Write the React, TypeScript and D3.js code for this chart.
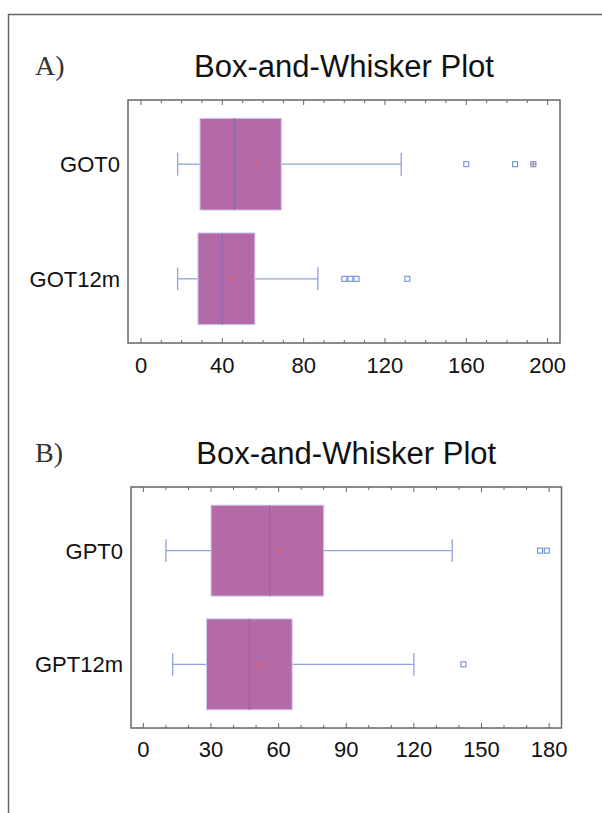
import React from 'react';
import * as d3 from 'd3';

// panel A: GOT
const gotCategories = ['GOT0', 'GOT12m'];
const gotWhiskerLow = [18, 18];
const gotQ1 = [29, 28];
const gotMedian = [46, 40];
const gotMean = [57, 45];
const gotQ3 = [69, 56];
const gotWhiskerHigh = [128, 87];
const gotOutliers = [[160, 184, 193], [100, 103, 106, 131]];
const gotFarOutliers = [[193], []];
const gotTicks = [0, 40, 80, 120, 160, 200];

// panel B: GPT
const gptCategories = ['GPT0', 'GPT12m'];
const gptWhiskerLow = [10, 13];
const gptQ1 = [30, 28];
const gptMedian = [56, 47];
const gptMean = [60, 52];
const gptQ3 = [80, 66];
const gptWhiskerHigh = [137, 120];
const gptOutliers = [[176, 179], [142]];
const gptFarOutliers = [[], []];
const gptTicks = [0, 30, 60, 90, 120, 150, 180];

const FILL = '#b56aa8';
const BOX_STROKE = '#cfc8ec';
const MEDIAN = '#8d6aad';
const WHISKER = '#8ea2dc';
const OUTLIER = '#6f8fd6';
const MEAN = '#e0607a';
const FRAME = '#666';
const SANS = 'Liberation Sans, Arial, sans-serif';

type PanelProps = {
  letter: string;
  titleY: number;
  left: number;
  right: number;
  top: number;
  bottom: number;
  domain: [number, number];
  ticks: number[];
  minorStep: number;
  categories: string[];
  low: number[];
  q1: number[];
  med: number[];
  mean: number[];
  q3: number[];
  high: number[];
  outliers: number[][];
  far: number[][];
  labelBaseline: number;
};

const Panel = (p: PanelProps) => {
  const x = d3.scaleLinear().domain(p.domain).range([p.left, p.right]);
  const y = d3.scalePoint<string>().domain(p.categories).range([p.top, p.bottom]).padding(0.56);
  const step = y.step();
  const boxH = step * 0.8;
  const capH = step * 0.2;
  const last = p.ticks[p.ticks.length - 1];
  const minor = d3.range(p.ticks[0], last + 0.001, p.minorStep);
  const cx = (p.left + p.right) / 2;

  return (
    <g>
      <text x={35} y={p.titleY - 2} fontFamily="Liberation Serif, serif" fontSize={28} fill="#333">
        {p.letter}
      </text>
      <text x={cx} y={p.titleY} textAnchor="middle" fontFamily={SANS} fontSize={31} fill="#111">
        Box-and-Whisker Plot
      </text>
      <rect x={p.left} y={p.top} width={p.right - p.left} height={p.bottom - p.top} fill="white" stroke={FRAME} strokeWidth={1.5} />
      {minor.map(v => {
        const major = p.ticks.includes(Math.round(v));
        const len = major ? 5 : 3;
        return (
          <g key={v} stroke={FRAME} strokeWidth={1}>
            <line x1={x(v)} x2={x(v)} y1={p.bottom} y2={p.bottom - len} />
            <line x1={x(v)} x2={x(v)} y1={p.top} y2={p.top + len} />
          </g>
        );
      })}
      {p.ticks.map(t => (
        <text key={t} x={x(t)} y={p.labelBaseline} textAnchor="middle" fontFamily={SANS} fontSize={22} fill="#111">
          {t}
        </text>
      ))}
      {p.categories.map((c, i) => {
        const cy = y(c) as number;
        return (
          <g key={c}>
            <text x={p.left - 8} y={cy + 8} textAnchor="end" fontFamily={SANS} fontSize={22} fill="#111">
              {c}
            </text>
            <line x1={x(p.low[i])} x2={x(p.q1[i])} y1={cy} y2={cy} stroke={WHISKER} strokeWidth={1.3} />
            <line x1={x(p.q3[i])} x2={x(p.high[i])} y1={cy} y2={cy} stroke={WHISKER} strokeWidth={1.3} />
            <line x1={x(p.low[i])} x2={x(p.low[i])} y1={cy - capH / 2} y2={cy + capH / 2} stroke={WHISKER} strokeWidth={1.3} />
            <line x1={x(p.high[i])} x2={x(p.high[i])} y1={cy - capH / 2} y2={cy + capH / 2} stroke={WHISKER} strokeWidth={1.3} />
            <rect x={x(p.q1[i])} y={cy - boxH / 2} width={x(p.q3[i]) - x(p.q1[i])} height={boxH} fill={FILL} stroke={BOX_STROKE} strokeWidth={1} />
            <line x1={x(p.med[i])} x2={x(p.med[i])} y1={cy - boxH / 2} y2={cy + boxH / 2} stroke={MEDIAN} strokeWidth={1.2} />
            <g stroke={MEAN} strokeWidth={1}>
              <line x1={x(p.mean[i]) - 3} x2={x(p.mean[i]) + 3} y1={cy} y2={cy} />
              <line x1={x(p.mean[i])} x2={x(p.mean[i])} y1={cy - 3} y2={cy + 3} />
            </g>
            {p.outliers[i].map((o, j) => (
              <rect key={j} x={x(o) - 2.5} y={cy - 2.5} width={5} height={5} fill="white" stroke={OUTLIER} strokeWidth={1.1} />
            ))}
            {p.far[i].map((o, j) => (
              <g key={j} stroke={MEAN} strokeWidth={1}>
                <line x1={x(o) - 3} x2={x(o) + 3} y1={cy} y2={cy} />
                <line x1={x(o)} x2={x(o)} y1={cy - 3} y2={cy + 3} />
              </g>
            ))}
          </g>
        );
      })}
    </g>
  );
};

export default function App() {
  return (
    <svg width={602} height={813} style={{ position: 'absolute', left: 0, top: 0, background: 'white' }}>
      <rect x={8.5} y={14.5} width={700} height={900} fill="white" stroke={FRAME} strokeWidth={1.5} />
      <Panel
        letter="A)"
        titleY={77}
        left={128}
        right={560}
        top={100}
        bottom={343}
        domain={[-6.4, 206.1]}
        ticks={gotTicks}
        minorStep={10}
        categories={gotCategories}
        low={gotWhiskerLow}
        q1={gotQ1}
        med={gotMedian}
        mean={gotMean}
        q3={gotQ3}
        high={gotWhiskerHigh}
        outliers={gotOutliers}
        far={gotFarOutliers}
        labelBaseline={373}
      />
      <Panel
        letter="B)"
        titleY={464}
        left={131}
        right={561.5}
        top={487}
        bottom={728}
        domain={[-5.5, 185.5]}
        ticks={gptTicks}
        minorStep={10}
        categories={gptCategories}
        low={gptWhiskerLow}
        q1={gptQ1}
        med={gptMedian}
        mean={gptMean}
        q3={gptQ3}
        high={gptWhiskerHigh}
        outliers={gptOutliers}
        far={gptFarOutliers}
        labelBaseline={757}
      />
    </svg>
  );
}
